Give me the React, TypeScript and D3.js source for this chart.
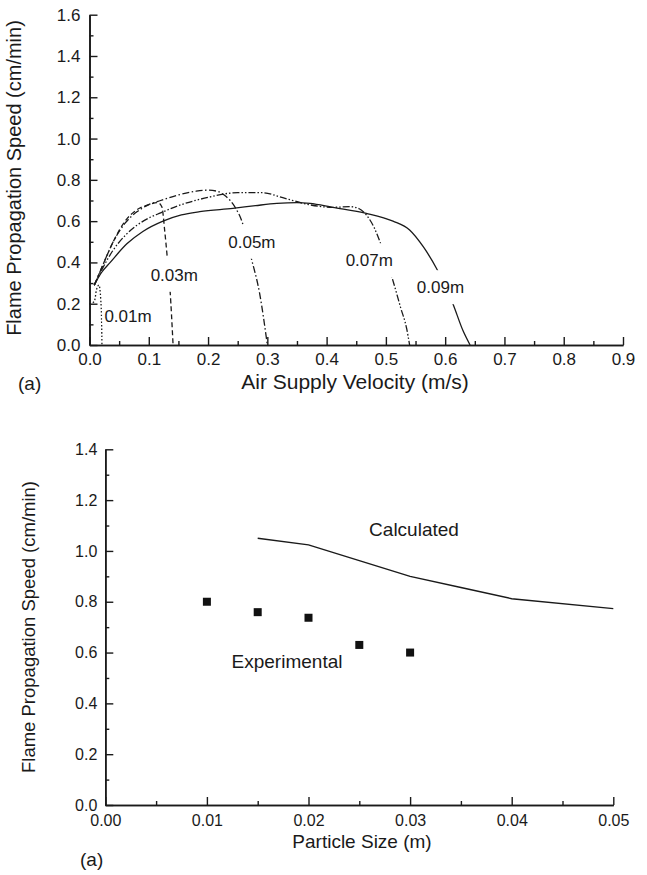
import React, { useEffect, useRef } from 'react';
import * as d3 from 'd3';

// top panel: flame speed vs air supply velocity, one curve per particle size
const sizeLabels = ['0.01m', '0.03m', '0.05m', '0.07m', '0.09m'];

const curve001 = [
  [0.0, 0.2], [0.008, 0.21], [0.012, 0.27], [0.016, 0.29], [0.019, 0.22], [0.0205, 0.1], [0.021, 0]
];
const curve003 = [
  [0.008, 0.29], [0.02, 0.37], [0.04, 0.5], [0.06, 0.6], [0.08, 0.655], [0.1, 0.68],
  [0.115, 0.69], [0.122, 0.67], [0.127, 0.55], [0.131, 0.43], [0.136, 0.26], [0.141, 0]
];
const curve005 = [
  [0.008, 0.29], [0.02, 0.37], [0.04, 0.5], [0.06, 0.59], [0.08, 0.645], [0.1, 0.68],
  [0.12, 0.7], [0.15, 0.727], [0.18, 0.745], [0.2, 0.75], [0.215, 0.745], [0.23, 0.72],
  [0.245, 0.67], [0.257, 0.6], [0.273, 0.42], [0.287, 0.25], [0.3, 0]
];
const curve007 = [
  [0.008, 0.29], [0.02, 0.36], [0.04, 0.46], [0.06, 0.53], [0.08, 0.58], [0.1, 0.615],
  [0.12, 0.64], [0.15, 0.675], [0.2, 0.715], [0.25, 0.738], [0.29, 0.738], [0.33, 0.71],
  [0.37, 0.68], [0.41, 0.667], [0.44, 0.67], [0.455, 0.66], [0.467, 0.63], [0.48, 0.57],
  [0.49, 0.5], [0.51, 0.33], [0.525, 0.18], [0.535, 0.08], [0.54, 0]
];
const curve009 = [
  [0.008, 0.29], [0.02, 0.35], [0.035, 0.4], [0.063, 0.49], [0.09, 0.55], [0.124, 0.6],
  [0.155, 0.63], [0.186, 0.646], [0.242, 0.662], [0.28, 0.675], [0.316, 0.686], [0.35, 0.69],
  [0.372, 0.686], [0.41, 0.667], [0.467, 0.638], [0.512, 0.6], [0.54, 0.557], [0.563, 0.476],
  [0.585, 0.373], [0.613, 0.2], [0.63, 0.07], [0.642, 0]
];
// where each size label sits, in data units (velocity, speed)
const labelSpots = [[0.065, 0.14], [0.143, 0.34], [0.274, 0.5], [0.472, 0.41], [0.592, 0.28]];

// bottom panel: calculated line vs experimental points
const calcSize = [0.015, 0.02, 0.025, 0.03, 0.035, 0.04, 0.05];
const calcSpeed = [1.05, 1.024, 0.962, 0.9, 0.856, 0.812, 0.773];
const expSize = [0.01, 0.015, 0.02, 0.025, 0.03];
const expSpeed = [0.8, 0.759, 0.737, 0.63, 0.6];

const FONT = '"Liberation Sans", Arial, sans-serif';
const INK = '#1a1a1a';
const dashes = ['1.5,2', '5,3', '7,2.5,1.5,2.5', '7,2,1.5,2,1.5,2', null];

function drawAxes(g, x, y, opts) {
  const { xMajor, xMinor, yMajor, yMinor, xFmt, yFmt, xPad, yPad, fontSize } = opts;
  const h = y.range()[0];
  const left = x.range()[0];

  g.append('g')
    .attr('transform', `translate(0,${h})`)
    .call(d3.axisBottom(x).tickValues(xMinor).tickSize(-4).tickSizeOuter(0).tickFormat(() => ''));
  g.append('g')
    .attr('transform', `translate(0,${h})`)
    .call(d3.axisBottom(x).tickValues(xMajor).tickSize(-8).tickSizeOuter(0).tickPadding(xPad).tickFormat(d3.format(xFmt)));
  g.append('g')
    .attr('transform', `translate(${left},0)`)
    .call(d3.axisLeft(y).tickValues(yMinor).tickSize(-4).tickSizeOuter(0).tickFormat(() => ''));
  g.append('g')
    .attr('transform', `translate(${left},0)`)
    .call(d3.axisLeft(y).tickValues(yMajor).tickSize(-8).tickSizeOuter(0).tickPadding(yPad).tickFormat(d3.format(yFmt)));

  g.selectAll('.domain').attr('stroke', INK).attr('stroke-width', 1.6);
  g.selectAll('.tick line').attr('stroke', INK).attr('stroke-width', 1.4);
  g.selectAll('.tick text').attr('fill', INK).style('font-family', FONT).style('font-size', `${fontSize}px`);
}

function labelWithGap(g, x, y, text, size, padX, padY) {
  const t = g.append('text')
    .attr('x', x).attr('y', y).attr('dy', '0.35em')
    .attr('text-anchor', 'middle')
    .style('font-family', FONT).style('font-size', `${size}px`)
    .attr('fill', INK)
    .text(text);
  const box = t.node().getBBox();
  g.insert('rect', () => t.node())
    .attr('x', box.x - padX).attr('y', y - padY)
    .attr('width', box.width + padX * 2).attr('height', padY * 2)
    .attr('fill', '#fff');
}

function addText(g, x, y, text, size, anchor = 'middle', rotate = false) {
  g.append('text')
    .attr('transform', rotate ? `translate(${x},${y}) rotate(-90)` : `translate(${x},${y})`)
    .attr('text-anchor', anchor)
    .style('font-family', FONT).style('font-size', `${size}px`)
    .attr('fill', INK)
    .text(text);
}

export default function App() {
  const svgRef = useRef(null);

  useEffect(() => {
    const svg = d3.select(svgRef.current);
    svg.selectAll('*').remove();

    // ---- top panel ----
    const xTop = d3.scaleLinear().domain([0, 0.9]).range([89.5, 623]);
    const yTop = d3.scaleLinear().domain([0, 1.6]).range([345, 14.7]);
    const top = svg.append('g');

    const line = d3.line()
      .x(d => xTop(d[0]))
      .y(d => yTop(d[1]))
      .curve(d3.curveMonotoneX);

    [curve001, curve003, curve005, curve007, curve009].forEach((pts, i) => {
      top.append('path')
        .attr('d', line(pts))
        .attr('fill', 'none')
        .attr('stroke', INK)
        .attr('stroke-width', 1.3)
        .attr('stroke-dasharray', dashes[i]);
    });

    sizeLabels.forEach((lbl, i) => {
      const [v, s] = labelSpots[i];
      labelWithGap(top, xTop(v), yTop(s), lbl, 17, 2, i === 0 ? 9 : 17);
    });

    drawAxes(top, xTop, yTop, {
      xMajor: d3.range(0, 0.91, 0.1),
      xMinor: d3.range(0.05, 0.9, 0.1),
      yMajor: d3.range(0, 1.61, 0.2),
      yMinor: d3.range(0.1, 1.6, 0.2),
      xFmt: '.1f', yFmt: '.1f', xPad: 8, yPad: 9, fontSize: 17
    });

    addText(top, 355, 389, 'Air Supply Velocity (m/s)', 21);
    addText(top, 21, 178, 'Flame Propagation Speed (cm/min)', 20, 'middle', true);
    addText(top, 18, 390, '(a)', 19, 'start');

    // ---- bottom panel ----
    const xBot = d3.scaleLinear().domain([0, 0.05]).range([105.3, 613.3]);
    const yBot = d3.scaleLinear().domain([0, 1.4]).range([805, 449.3]);
    const bot = svg.append('g');

    const calcLine = d3.line()
      .x((d, i) => xBot(calcSize[i]))
      .y(d => yBot(d));
    bot.append('path')
      .attr('d', calcLine(calcSpeed))
      .attr('fill', 'none')
      .attr('stroke', INK)
      .attr('stroke-width', 1.4);

    bot.selectAll('rect.exp')
      .data(expSpeed)
      .enter()
      .append('rect')
      .attr('class', 'exp')
      .attr('x', (d, i) => xBot(expSize[i]) - 4)
      .attr('y', d => yBot(d) - 4)
      .attr('width', 8).attr('height', 8)
      .attr('fill', '#111');

    drawAxes(bot, xBot, yBot, {
      xMajor: d3.range(0, 0.0501, 0.01),
      xMinor: d3.range(0.005, 0.05, 0.01),
      yMajor: d3.range(0, 1.41, 0.2),
      yMinor: d3.range(0.1, 1.4, 0.2),
      xFmt: '.2f', yFmt: '.1f', xPad: 10, yPad: 8, fontSize: 16
    });

    addText(bot, 414, 536, 'Calculated', 19);
    addText(bot, 287, 668, 'Experimental', 19);
    addText(bot, 362, 848, 'Particle Size (m)', 19);
    addText(bot, 35, 627, 'Flame Propagation Speed (cm/min)', 18.5, 'middle', true);
    addText(bot, 80, 866, '(a)', 19, 'start');
  }, []);

  return (
    <div style={{ position: 'absolute', left: 0, top: 0 }}>
      <svg ref={svgRef} width={647} height={875} style={{ display: 'block', background: '#fff' }} />
    </div>
  );
}
